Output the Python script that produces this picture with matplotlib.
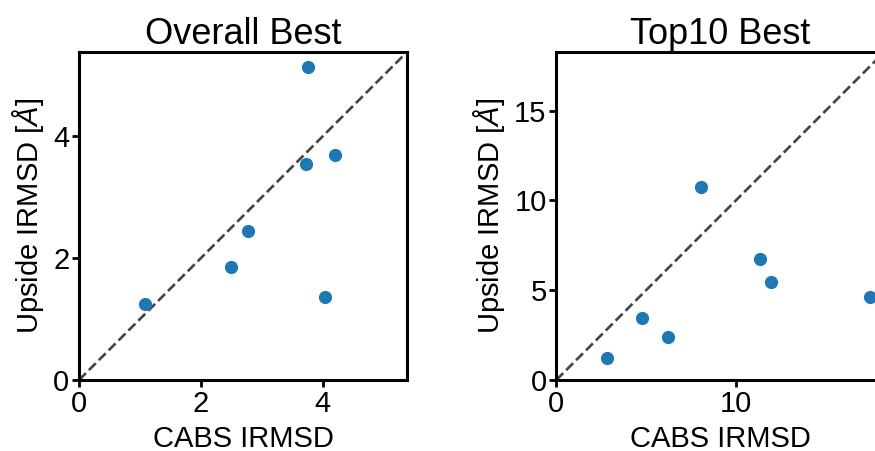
import matplotlib
matplotlib.use("Agg")
import matplotlib.pyplot as plt

plt.rcParams['font.family'] = ['Liberation Sans', 'DejaVu Sans']
plt.rcParams['mathtext.fontset'] = 'custom'
plt.rcParams['mathtext.it'] = 'Liberation Sans:italic'
plt.rcParams['mathtext.rm'] = 'Liberation Sans'

# données
overall_cabs = [1.09, 2.50, 2.77, 3.73, 3.75, 4.20, 4.04]
overall_upside = [1.24, 1.86, 2.44, 3.55, 5.13, 3.69, 1.36]
top10_cabs = [2.84, 4.79, 6.21, 8.08, 11.32, 11.95, 17.45]
top10_upside = [1.21, 3.43, 2.41, 10.76, 6.72, 5.46, 4.64]

titles = ['Overall Best', 'Top10 Best']
xlabel = 'CABS IRMSD'
ylabel = r'Upside IRMSD [$\AA$]'
limits = [5.38, 18.26]
ticks = [[0, 2, 4], [0, 10]]
yticks = [[0, 2, 4], [0, 5, 10, 15]]

fig = plt.figure(figsize=(8.75, 4.51), dpi=100)
ax1 = fig.add_axes([79 / 875, 71 / 451, 328 / 875, 328 / 451])
ax2 = fig.add_axes([556.3 / 875, 71 / 451, 328 / 875, 328 / 451])

datasets = [(overall_cabs, overall_upside), (top10_cabs, top10_upside)]
for i, ax in enumerate([ax1, ax2]):
    x, y = datasets[i]
    lim = limits[i]
    ax.plot([0, lim], [0, lim], ls='--', color='#444444', lw=1.9, zorder=1)
    ax.scatter(x, y, s=72, color='#1f77b4', zorder=2)
    ax.set_xlim(0, lim)
    ax.set_ylim(0, lim)
    ax.set_xticks(ticks[i])
    ax.set_yticks(yticks[i])
    ax.set_title(titles[i], fontsize=26, pad=5)
    ax.set_xlabel(xlabel, fontsize=21, labelpad=5)
    ax.set_ylabel(ylabel, fontsize=21, labelpad=5)
    ax.tick_params(labelsize=21, width=2, length=5, pad=2)
    for sp in ax.spines.values():
        sp.set_linewidth(2.2)

fig.savefig('out.png', dpi=100)
